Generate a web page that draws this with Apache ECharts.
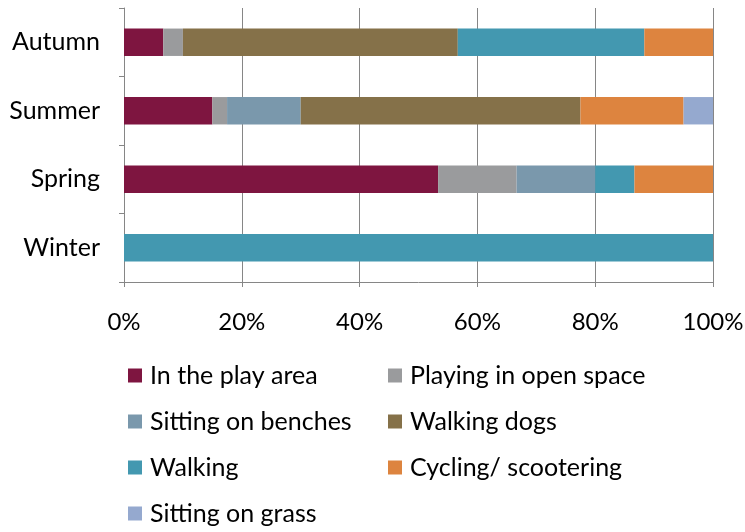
<!DOCTYPE html>
<html><head><meta charset="utf-8">
<script src="https://cdn.jsdelivr.net/npm/echarts@6/dist/echarts.min.js"></script>
<style>html,body{margin:0;padding:0;background:#fff}#c{width:745px;height:532px}</style>
</head><body><div id="c"></div>
<script>
const categories = ['Winter', 'Spring', 'Summer', 'Autumn'];
const seriesNames = ['In the play area', 'Playing in open space', 'Sitting on benches', 'Walking dogs', 'Walking', 'Cycling/ scootering', 'Sitting on grass'];
const playArea    = [0, 53.33, 15.0, 6.67];
const openSpace   = [0, 13.33, 2.5, 3.33];
const benches     = [0, 13.33, 12.5, 0];
const walkingDogs = [0, 0, 47.5, 46.67];
const walking     = [100, 6.67, 0, 31.67];
const cycling     = [0, 13.34, 17.5, 11.66];
const grass       = [0, 0, 5.0, 0];
const xTicks = [0, 20, 40, 60, 80, 100];
const colors = ['#7E1540', '#9A9B9D', '#7A98AC', '#857149', '#4398B0', '#DD843F', '#95A9CF'];
const values = [playArea, openSpace, benches, walkingDogs, walking, cycling, grass];

const font = 'Lato, "Open Sans", sans-serif';
const chart = echarts.init(document.getElementById('c'));
const legendCommon = {
  orient: 'vertical', itemWidth: 14, itemHeight: 14, itemGap: 21, icon: 'rect', height: 190, padding: 0,
  textStyle: { fontSize: 25, lineHeight: 22, color: '#000', fontFamily: font, padding: [0, 0, 0, 3] }, selectedMode: false
};
chart.setOption({
  animation: false,
  color: colors,
  grid: { left: 124, right: 32, top: 8, bottom: 250, outerBoundsMode: 'none', containLabel: false },
  xAxis: {
    type: 'value', min: xTicks[0], max: xTicks[xTicks.length - 1], interval: 20,
    axisLabel: { formatter: v => v + '%', fontSize: 24, color: '#000', fontFamily: font, margin: 28 },
    axisLine: { show: true, lineStyle: { color: '#868686', width: 1 } },
    axisTick: { show: true, length: 5, lineStyle: { color: '#868686' } },
    splitLine: { show: true, lineStyle: { color: '#868686', width: 1 } }
  },
  yAxis: {
    type: 'category', data: categories,
    axisLabel: { fontSize: 25, color: '#000', fontFamily: font, margin: 24 },
    axisLine: { show: true, lineStyle: { color: '#868686', width: 1 } },
    axisTick: { show: true, length: 5, lineStyle: { color: '#868686' } }
  },
  legend: [
    Object.assign({ left: 128, top: 363, data: [seriesNames[0], seriesNames[2], seriesNames[4], seriesNames[6]] }, legendCommon),
    Object.assign({ left: 388, top: 363, data: [seriesNames[1], seriesNames[3], seriesNames[5]] }, legendCommon)
  ],
  series: seriesNames.map((n, i) => ({
    name: n, type: 'bar', stack: 'total', data: values[i],
    barWidth: '40%', itemStyle: { color: colors[i] }
  }))
});
</script></body></html>
